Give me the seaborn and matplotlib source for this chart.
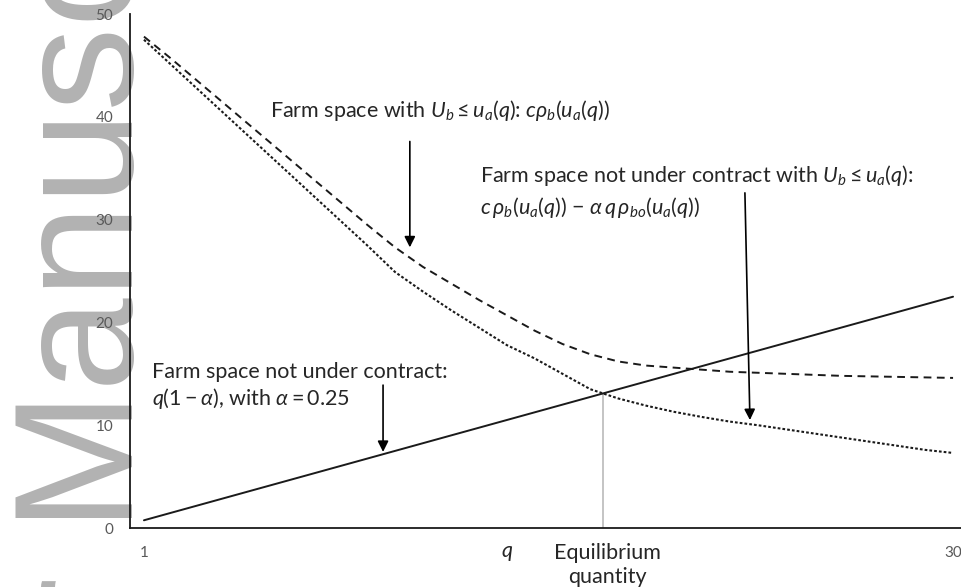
import numpy as np
import pandas as pd
import matplotlib
matplotlib.use("Agg")
import matplotlib.pyplot as plt
import seaborn as sns

# data
q = list(range(1, 31))
not_contract = [0.75, 1.5, 2.25, 3.0, 3.75, 4.5, 5.25, 6.0, 6.75, 7.5,
                8.25, 9.0, 9.75, 10.5, 11.25, 12.0, 12.75, 13.5, 14.25, 15.0,
                15.75, 16.5, 17.25, 18.0, 18.75, 19.5, 20.25, 21.0, 21.75, 22.5]
farm_space = [47.8, 45.6, 43.3, 41.0, 38.7, 36.4, 34.1, 31.8, 29.5, 27.3,
              25.4, 23.8, 22.2, 20.7, 19.2, 17.9, 16.9, 16.2, 15.8, 15.6,
              15.4, 15.2, 15.1, 15.0, 14.9, 14.8, 14.75, 14.7, 14.65, 14.6]
farm_not_contract = [47.5, 45.0, 42.5, 40.0, 37.5, 35.0, 32.5, 30.0, 27.5, 24.9,
                     23.0, 21.2, 19.5, 17.8, 16.5, 15.0, 13.5, 12.6, 11.9, 11.3,
                     10.8, 10.35, 10.0, 9.6, 9.2, 8.8, 8.4, 8.0, 7.6, 7.3]
eq_q, eq_y = 17.45, 13.1
y_ticks = [0, 10, 20, 30, 40, 50]
x_ticks = [1, 30]

df = pd.DataFrame({"q": q, "solid": not_contract,
                   "dashed": farm_space, "dotted": farm_not_contract})

sns.set_theme(style="white")
plt.rcParams["font.family"] = ["Lato", "DejaVu Sans"]
plt.rcParams["mathtext.fontset"] = "custom"
plt.rcParams["mathtext.rm"] = "Lato"
plt.rcParams["mathtext.it"] = "Lato:italic"
plt.rcParams["mathtext.bf"] = "Lato:bold"

fig = plt.figure(figsize=(9.61, 5.87), dpi=100)
W, H = 961, 587
ax = fig.add_axes([130 / W, 1 - 528 / H, (W - 130) / W, (528 - 14) / H])
ax.set_facecolor("none")

# watermark (starts far below the figure so only part of "Author" shows)
fig.text(133 / W, 1 - 1072 / H, "Author Manuscript", rotation=90,
         rotation_mode="anchor", ha="left", va="baseline", fontsize=121,
         family="Liberation Sans", color="#b2b2b2", zorder=-5)

lw = 1.4
sns.lineplot(data=df, x="q", y="solid", ax=ax, color="#1a1a1a", lw=lw)
sns.lineplot(data=df, x="q", y="dashed", ax=ax, color="#1a1a1a", lw=lw)
ax.lines[-1].set_dashes((4, 2.8))
sns.lineplot(data=df, x="q", y="dotted", ax=ax, color="#1a1a1a", lw=1.5)
ax.lines[-1].set_dashes((1.3, 1.0))

ax.vlines(eq_q, 0, eq_y, color="#bfbfbf", lw=1.3, zorder=1)

ax.set_xlim(0.5, 0.5 + (W - 130) / 27.9)
ax.set_ylim(0, 50)
ax.set_yticks(y_ticks)
ax.set_xticks(x_ticks)
ax.set_xticklabels([str(v) for v in x_ticks])
ax.tick_params(axis="y", length=0, pad=12, labelsize=11, labelcolor="#595959")
ax.tick_params(axis="x", length=0, pad=13, labelsize=11, labelcolor="#595959")
ax.set_xlabel("")
ax.set_ylabel("")
sns.despine(ax=ax)
for s in ["left", "bottom"]:
    ax.spines[s].set_color("#1a1a1a")
    ax.spines[s].set_linewidth(1.3)

tc = "#262626"
fs = 15.5
arrow = dict(arrowstyle="-|>", color="black", lw=1.2, mutation_scale=16,
             shrinkA=0, shrinkB=0)

ax.text(5.52, 40.0, r"Farm space with $U_b \leq u_a(q)$: $c\rho_b(u_a(q))$",
        fontsize=fs, color=tc, va="baseline", ha="left")
ax.annotate("", xy=(10.53, 27.3), xytext=(10.53, 37.6), arrowprops=arrow)

ax.text(13.04, 33.66, r"Farm space not under contract with $U_b \leq u_a(q)$:",
        fontsize=fs, color=tc, va="baseline", ha="left")
ax.text(13.04, 30.5,
        r"$c\,\rho_b(u_a(q))$ $-$ $\alpha\, q\, \rho_{bo}(u_a(q))$",
        fontsize=fs, color=tc, va="baseline", ha="left")
ax.annotate("", xy=(22.72, 10.5), xytext=(22.54, 32.6), arrowprops=arrow)

ax.text(1.29, 14.6, "Farm space not under contract:",
        fontsize=fs, color=tc, va="baseline", ha="left")
ax.text(1.29, 11.96, r"$q(1-\alpha)$, with $\alpha = 0.25$",
        fontsize=fs, color=tc, va="baseline", ha="left")
ax.annotate("", xy=(9.57, 7.4), xytext=(9.57, 13.9), arrowprops=arrow)

ax.text(14.0, -2.43, "$q$", fontsize=fs, color=tc, ha="center", va="center",
        clip_on=False)
ax.text(17.6, -2.43, "Equilibrium", fontsize=fs, color=tc, ha="center",
        va="center", clip_on=False)
ax.text(17.6, -4.77, "quantity", fontsize=fs, color=tc, ha="center",
        va="center", clip_on=False)

fig.savefig("out.png", dpi=100)
